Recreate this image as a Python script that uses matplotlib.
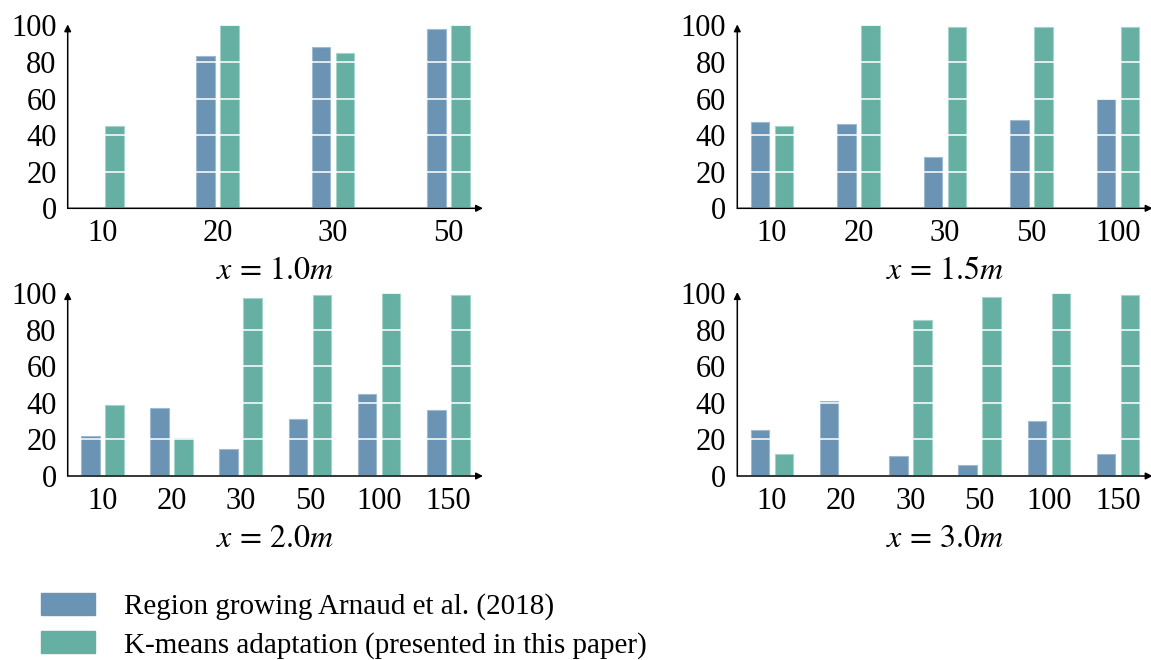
import matplotlib
matplotlib.use('Agg')
import matplotlib.pyplot as plt
import numpy as np

plt.rcParams['font.family'] = ['Liberation Serif', 'DejaVu Serif']
plt.rcParams['mathtext.fontset'] = 'stix'

# data
titles = [r'$x\,=\,1.0m$', r'$x\,=\,1.5m$', r'$x\,=\,2.0m$', r'$x\,=\,3.0m$']
cats_1 = ['10', '20', '30', '50']
cats_2 = ['10', '20', '30', '50', '100']
cats_3 = ['10', '20', '30', '50', '100', '150']
cats_4 = ['10', '20', '30', '50', '100', '150']

region_1 = [0, 83, 88, 98]
kmeans_1 = [45, 100, 85, 100]
region_2 = [47, 46, 28, 48, 60]
kmeans_2 = [45, 100, 99, 99, 99]
region_3 = [22, 37, 15, 31, 45, 36]
kmeans_3 = [39, 21, 97, 99, 100, 99]
region_4 = [25, 41, 11, 6, 30, 12]
kmeans_4 = [12, 0, 85, 98, 100, 99]

legend_labels = ['Region growing Arnaud et al. (2018)',
                 'K-means adaptation (presented in this paper)']

blue = '#6b94b4'
green = '#66b0a3'

fig = plt.figure(figsize=(11.51, 6.6), dpi=100)

W, H = 1151, 660
ax_w = 415.3 / W
ax_h = 183 / H
positions = [(67.7 / W, 1 - 208.3 / H), (737.3 / W, 1 - 208.3 / H),
             (67.7 / W, 1 - 476 / H), (737.3 / W, 1 - 476 / H)]

panels = [(cats_1, region_1, kmeans_1), (cats_2, region_2, kmeans_2),
          (cats_3, region_3, kmeans_3), (cats_4, region_4, kmeans_4)]

# fixed pixel geometry of bars like pgfplots
margin_frac = 34.6 / 415.3
bar_frac = 18.5 / 415.3
off_frac = 12.0 / 415.3

for (cats, reg, km), pos, title in zip(panels, positions, titles):
    ax = fig.add_axes([pos[0], pos[1], ax_w, ax_h])
    n = len(cats)
    span = (n - 1) / (1 - 2 * margin_frac)
    m = margin_frac * span
    w = bar_frac * span
    off = off_frac * span
    x = np.arange(n)
    ax.bar(x - off, reg, width=w, color=blue, edgecolor='#9fbad0', linewidth=0.8)
    ax.bar(x + off, km, width=w, color=green, edgecolor='#a3d3ca', linewidth=0.8)
    ax.set_xlim(-m, n - 1 + m)
    ax.set_ylim(0, 100)
    ax.set_xticks(x)
    ax.set_xticklabels(cats)
    ax.set_yticks([0, 20, 40, 60, 80, 100])
    ax.tick_params(length=0, labelsize=22, pad=8)
    ax.set_axisbelow(False)
    ax.yaxis.grid(True, color='white', linewidth=1.3, alpha=0.85)
    for s in ax.spines.values():
        s.set_visible(False)
    ax.annotate('', xy=(1, 0), xytext=(0, 0), xycoords='axes fraction',
                arrowprops=dict(arrowstyle='-|>', lw=1.1, color='black',
                                mutation_scale=10, shrinkA=0, shrinkB=0),
                annotation_clip=False)
    ax.annotate('', xy=(0, 1.005), xytext=(0, 0), xycoords='axes fraction',
                arrowprops=dict(arrowstyle='-|>', lw=1.1, color='black',
                                mutation_scale=10, shrinkA=0, shrinkB=0),
                annotation_clip=False)
    ax.text(0.5, -0.345, title, transform=ax.transAxes, ha='center',
            va='center', fontsize=23)

handles = [plt.Rectangle((0, 0), 1, 1, color=blue),
           plt.Rectangle((0, 0), 1, 1, color=green)]
fig.legend(handles, legend_labels, loc='upper left',
           bbox_to_anchor=(41 / W, 1 - 593 / H), frameon=False, fontsize=21,
           handlelength=1.85, handleheight=0.76, handletextpad=1.0,
           labelspacing=0.38, borderpad=0, borderaxespad=0)

fig.savefig('out.png', dpi=100)
